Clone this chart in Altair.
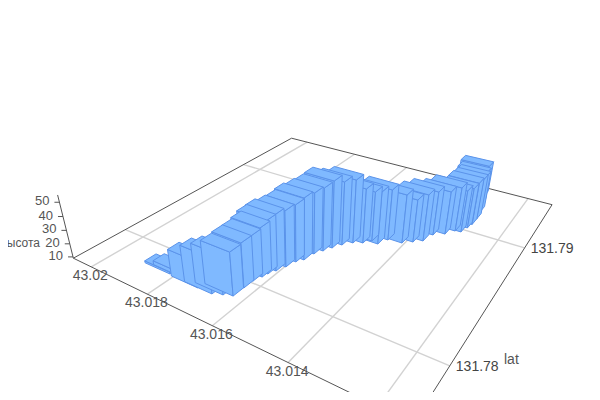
import numpy as np
import pandas as pd
import altair as alt

# bar values: lat/lon of each bar's near corner, and height
lat_offset = [1815,1791,1719,1676,1652,1630,1629,1628,1620,1616,1607,1597,1589,1577,1571,1559,1547,1533,1514,1492,1477,1457,1444,1406,1384,1364,1354,1329,1312,1297,1290,1286,1286,1292,1306,1316]
lon_offset = [-161,-149,-169,-167,-145,-126,-52,13,62,97,138,192,254,290,362,410,459,511,559,587,630,621,685,698,738,776,860,904,963,971,1030,1080,1150,1240,1340,1440]
height10 = [105,120,285,352,372,398,408,411,441,469,491,494,504,539,537,553,583,558,559,496,461,481,469,453,410,440,421,415,424,408,397,414,403,377,345,340]
lat_ticks = [43.02, 43.018, 43.016, 43.014]
lat_grid = [43.02, 43.018, 43.016, 43.014, 43.012]
lon_ticks = [131.78, 131.79]
z_ticks = [10, 20, 30, 40, 50]
lat_range = [43.0113, 43.0207]
lon_range = [131.7767, 131.7955]
z_range = [9, 55]
bar_dlat = 0.00087
bar_dlon = 0.00074
nearest_bar = 5  # the bar closest to the viewer

lats = [43 + v / 1e5 for v in lat_offset]
lons = [131.78 + v / 1e5 for v in lon_offset]
zs = [v / 10 for v in height10]

# camera: perspective of the reference's 3D view
src = [(0, 1), (0, 0), (1, 0), (1, 1)]
dst = [(260, 169.4), (143, 237), (417, 352), (498, 240)]
A, b = [], []
for (u, v), (x, y) in zip(src, dst):
    A.append([u, v, 1, 0, 0, 0, -u * x, -v * x]); b.append(x)
    A.append([0, 0, 0, u, v, 1, -u * y, -v * y]); b.append(y)
H = np.append(np.linalg.solve(np.array(A, float), np.array(b, float)), 1).reshape(3, 3)
VP = np.array([303.0, 1180.0, 1.0])
q0 = np.linalg.inv(H) @ np.array([73.0, 259.0, 1.0])
q0 = q0 / q0[2]
K = (259 - 203) / (203 - 1180) * (H[2] @ q0) / 41


def proj(la, lo, z=9.0):
    p = H @ np.array([(43.02 - la) / 0.008, (lo - 131.78) / 0.01, 1.0])
    p = p + (z - 9.0) * K * VP
    return float(p[0] / p[2]), float(p[1] / p[2])


# faces of bars, back to front: both ends of the track first, nearest bar last
order = list(range(len(lats) - 1, nearest_bar, -1)) + list(range(0, nearest_bar + 1))
rows = []
pid = 0
for i in order:
    a0, a1 = lats[i], lats[i] + bar_dlat
    o0, o1 = lons[i], lons[i] + bar_dlon
    z1 = zs[i]
    faces = [
        [(a0, o0, 9), (a1, o0, 9), (a1, o0, z1), (a0, o0, z1)],
        [(a0, o0, 9), (a0, o1, 9), (a0, o1, z1), (a0, o0, z1)],
        [(a0, o0, z1), (a1, o0, z1), (a1, o1, z1), (a0, o1, z1)],
    ]
    for f in faces:
        for n, pt in enumerate(f + [f[0]]):
            x, y = proj(*pt)
            rows.append({"face": f"f{pid:04d}", "n": n, "x": x, "y": y})
        pid += 1
faces_df = pd.DataFrame(rows)


def seg(p, q, **kw):
    return {"x": p[0], "y": p[1], "x2": q[0], "y2": q[1], **kw}


grid = []
for la in lat_grid:
    grid.append(seg(proj(la, lon_range[0]), proj(la, lon_range[1])))
for lo in lon_ticks:
    grid.append(seg(proj(lat_range[0], lo), proj(lat_range[1], lo)))
frame = []
c = [(lat_range[1], lon_range[0]), (lat_range[1], lon_range[1]), (lat_range[0], lon_range[1]), (lat_range[0], lon_range[0])]
for i in range(4):
    frame.append(seg(proj(*c[i]), proj(*c[(i + 1) % 4])))
base = (lat_range[1], lon_range[0])
frame.append(seg(proj(*base, z_range[0]), proj(*base, z_range[1])))
for z in z_ticks:
    p = proj(*base, z)
    frame.append(seg((p[0] - 5, p[1]), p))

xs = alt.Scale(domain=[8, 592])
ys = alt.Scale(domain=[8, 392], reverse=True)
X = alt.X("x:Q", scale=xs, axis=None)
Y = alt.Y("y:Q", scale=ys, axis=None)


def rules(data, color, width):
    return alt.Chart(pd.DataFrame(data)).mark_rule(color=color, strokeWidth=width, clip=True).encode(
        x=X, y=Y, x2="x2:Q", y2="y2:Q")


labels = []
for la in lat_ticks:
    p = proj(la, lon_range[0])
    labels.append({"x": p[0] - 1, "y": p[1] + 9, "t": str(la), "a": "center"})
for lo in lon_ticks:
    p = proj(lat_range[0], lo)
    labels.append({"x": p[0] + 6, "y": p[1] + 1, "t": str(lo), "a": "left"})
lab_l = [r for r in labels if r["a"] == "left"]
lab_c = [r for r in labels if r["a"] == "center"]
lab_z = []
for z in z_ticks:
    p = proj(*base, z)
    lab_z.append({"x": p[0] - 10, "y": p[1] - 1, "t": str(z)})


def texts(data, align, color="#555555", size=14):
    return alt.Chart(pd.DataFrame(data)).mark_text(
        align=align, baseline="middle", fontSize=size, font="Liberation Sans", color=color
    ).encode(x=X, y=Y, text="t:N")


bars = alt.Chart(faces_df).mark_line(
    fill="#7fb9ff", stroke="#5b93ea", strokeWidth=1, interpolate="linear", strokeJoin="round", clip=True
).encode(x=X, y=Y, detail="face:N", order="n:Q")

chart = alt.layer(
    rules(grid, "#d2d2d2", 1.4),
    rules(frame, "#555555", 1),
    bars,
    texts(lab_c, "center"),
    texts(lab_l, "left", "#444444"),
    texts(lab_z, "right", size=13),
    texts([{"x": 40, "y": 243, "t": "ысота"}], "right", size=12),
    texts([{"x": 504, "y": 360, "t": "lat"}], "left"),
).properties(
    width=584, height=384, padding=0, autosize=alt.AutoSizeParams(type="none")
).configure_view(stroke=None)

chart.save("out.html", embed_options={"renderer": "svg", "actions": False})
